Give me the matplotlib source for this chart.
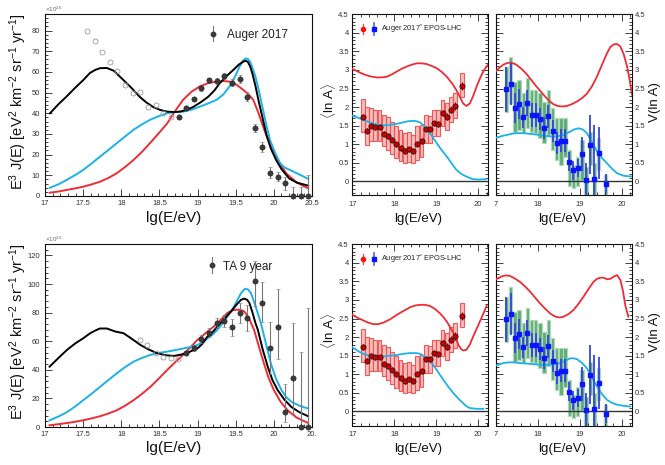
import matplotlib
matplotlib.use('Agg')
import matplotlib.pyplot as plt
from matplotlib.ticker import MultipleLocator, FixedLocator, FixedFormatter
from matplotlib.patches import Rectangle

plt.rcParams['font.family'] = ['Liberation Sans', 'DejaVu Sans']
plt.rcParams['mathtext.fontset'] = 'custom'
plt.rcParams['mathtext.rm'] = 'Liberation Sans'
plt.rcParams['mathtext.it'] = 'Liberation Sans:italic'
plt.rcParams['mathtext.bf'] = 'Liberation Sans:bold'

# ---------------- data: spectra ----------------
auger_lgE = [18.75, 18.85, 18.95, 19.05, 19.15, 19.25, 19.35, 19.45, 19.55, 19.65,
             19.75, 19.85, 19.95, 20.05, 20.15, 20.25, 20.35, 20.45]
auger_flux = [38.1, 42.5, 47.0, 52.0, 56.0, 55.6, 58.0, 54.8, 56.4, 48.0,
              33.0, 23.7, 11.2, 9.4, 6.1, 0.0, 0.0, 0.0]
auger_err_lo = [0.8, 0.9, 1.0, 1.1, 1.2, 1.3, 1.5, 1.8, 2.0, 2.2,
                2.0, 2.2, 2.7, 2.3, 3.2, 0.0, 0.0, 0.0]
auger_err_hi = [0.8, 0.9, 1.0, 1.1, 1.2, 1.3, 1.5, 1.8, 2.0, 2.2,
                2.0, 2.2, 2.7, 2.3, 3.2, 4.5, 4.5, 10.0]
auger_low_lgE = [17.55, 17.65, 17.75, 17.85, 17.95, 18.05, 18.15, 18.25, 18.35, 18.45, 18.55, 18.65]
auger_low_flux = [79.8, 74.8, 69.4, 65.0, 60.3, 53.5, 50.0, 50.5, 43.2, 43.9, 40.0, 38.0]

ta_lgE = [18.85, 18.95, 19.05, 19.15, 19.25, 19.35, 19.45, 19.55, 19.65, 19.75,
          19.85, 19.95, 20.05, 20.15, 20.25, 20.35, 20.45]
ta_flux = [51.6, 55.0, 61.6, 66.0, 73.0, 74.0, 69.6, 79.4, 76.0, 102.4,
           86.7, 55.0, 69.8, 10.5, 34.2, 0.0, 0.0]
ta_err_lo = [1.5, 1.8, 2.5, 3.0, 3.5, 4.0, 6.0, 7.0, 9.0, 18.0,
             13.6, 18.0, 22.0, 6.8, 24.8, 0.0, 0.0]
ta_err_hi = [1.5, 1.8, 2.5, 3.0, 3.5, 4.0, 6.0, 7.0, 9.0, 14.0,
             15.0, 18.6, 27.0, 19.5, 38.4, 52.5, 83.0]
ta_low_lgE = [18.24, 18.34, 18.45, 18.55, 18.65, 18.74]
ta_low_flux = [60.9, 57.4, 52.0, 49.2, 48.5, 47.3]

# model curves, Auger spectrum panel
tl_black_x = [17.065, 17.18, 17.28, 17.4, 17.5, 17.59, 17.66, 17.72, 17.81, 17.9, 18.03, 18.14,
              18.24, 18.33, 18.42, 18.51, 18.6, 18.69, 18.77, 18.85, 18.94, 19.04, 19.14, 19.22,
              19.29, 19.38, 19.47, 19.54, 19.6, 19.63, 19.66, 19.69, 19.72, 19.76, 19.8, 19.85,
              19.9, 19.96, 20.03, 20.1, 20.2, 20.3, 20.45]
tl_black_y = [40.0, 44.5, 48.0, 52.5, 56.0, 59.5, 61.0, 61.8, 61.9, 60.6, 56.0, 52.0,
              48.0, 45.2, 43.0, 41.6, 40.8, 40.6, 40.8, 41.6, 43.0, 45.3, 48.0, 51.0,
              54.5, 58.0, 61.0, 63.5, 65.0, 65.4, 64.8, 62.6, 59.0, 53.0, 46.0, 38.0,
              30.0, 23.0, 17.4, 13.0, 8.5, 6.5, 5.0]
tl_cyan_x = [17.065, 17.18, 17.28, 17.4, 17.5, 17.61, 17.72, 17.83, 17.94, 18.05, 18.16, 18.27,
             18.375, 18.49, 18.6, 18.7, 18.81, 18.92, 19.03, 19.14, 19.25, 19.34, 19.42, 19.49,
             19.55, 19.6, 19.63, 19.66, 19.69, 19.72, 19.76, 19.8, 19.85, 19.9, 19.95, 20.02,
             20.08, 20.14, 20.21, 20.3, 20.45]
tl_cyan_y = [4.0, 5.7, 7.7, 10.2, 12.6, 15.7, 19.0, 22.2, 25.5, 28.8, 32.0, 34.6,
             36.8, 38.6, 40.0, 40.6, 40.8, 41.7, 43.2, 44.8, 46.5, 49.2, 53.0, 57.6,
             62.6, 65.6, 66.5, 66.3, 64.8, 62.0, 57.5, 51.5, 43.0, 34.5, 27.0, 20.5,
             15.8, 13.8, 12.6, 11.0, 8.3]
tl_red_x = [17.065, 17.18, 17.28, 17.4, 17.5, 17.61, 17.72, 17.83, 17.94, 18.05, 18.16, 18.27,
            18.375, 18.49, 18.6, 18.7, 18.81, 18.92, 19.03, 19.14, 19.25, 19.34, 19.42, 19.51,
            19.6, 19.67, 19.73, 19.8, 19.86, 19.92, 19.99, 20.07, 20.16, 20.3, 20.45]
tl_red_y = [1.6, 2.2, 2.9, 3.7, 4.5, 5.6, 6.9, 8.7, 11.0, 14.0, 17.4, 21.3,
            25.5, 30.3, 35.0, 40.8, 46.5, 50.4, 53.0, 54.6, 55.3, 55.6, 55.3, 53.8,
            51.3, 49.0, 46.5, 40.0, 33.5, 27.5, 22.3, 16.5, 11.0, 6.5, 3.7]

# model curves, TA spectrum panel
bl_black_x = [17.06, 17.18, 17.29, 17.4, 17.5, 17.59, 17.66, 17.72, 17.81, 17.92, 18.03, 18.14,
              18.25, 18.36, 18.47, 18.58, 18.69, 18.78, 18.87, 19.0, 19.06, 19.13, 19.2, 19.26,
              19.35, 19.44, 19.51, 19.57, 19.61, 19.65, 19.68, 19.72, 19.76, 19.79, 19.85, 19.92,
              19.98, 20.05, 20.14, 20.23, 20.33, 20.45]
bl_black_y = [42.2, 48.5, 54.0, 58.6, 62.0, 65.5, 67.5, 68.9, 68.9, 66.8, 65.6, 61.6,
              57.4, 54.2, 51.6, 50.2, 49.7, 50.6, 52.0, 55.0, 58.0, 63.3, 66.5, 70.3,
              75.6, 80.9, 85.5, 89.0, 89.8, 89.0, 86.7, 80.0, 72.5, 68.0, 55.0, 42.2,
              33.0, 25.8, 19.0, 14.0, 10.5, 7.5]
bl_cyan_x = [17.06, 17.18, 17.29, 17.4, 17.5, 17.61, 17.72, 17.83, 17.94, 18.05, 18.16, 18.27,
             18.38, 18.49, 18.6, 18.71, 18.82, 18.91, 19.0, 19.07, 19.13, 19.2, 19.26, 19.35,
             19.44, 19.51, 19.57, 19.62, 19.66, 19.7, 19.76, 19.83, 19.9, 19.96, 20.03, 20.1,
             20.16, 20.23, 20.33, 20.45]
bl_cyan_y = [4.7, 7.4, 10.5, 14.5, 18.7, 23.2, 28.0, 32.8, 37.5, 41.9, 45.7, 48.3,
             50.4, 51.8, 52.7, 53.8, 55.0, 56.0, 57.4, 59.5, 62.0, 64.8, 68.0, 74.0,
             80.9, 87.5, 93.7, 96.6, 96.3, 93.7, 84.5, 72.6, 57.5, 44.5, 33.5, 25.8,
             21.0, 17.6, 15.0, 12.9]
bl_red_x = [17.06, 17.18, 17.29, 17.4, 17.5, 17.61, 17.72, 17.83, 17.94, 18.05, 18.16, 18.27,
            18.38, 18.49, 18.6, 18.71, 18.82, 18.91, 19.0, 19.07, 19.13, 19.2, 19.26, 19.33,
            19.39, 19.45, 19.5, 19.56, 19.61, 19.67, 19.74, 19.8, 19.87, 19.93, 20.0, 20.09,
            20.18, 20.3, 20.45]
bl_red_y = [1.2, 2.0, 2.8, 3.7, 4.7, 6.0, 7.5, 9.4, 11.7, 14.9, 18.7, 23.1,
            28.0, 33.8, 39.8, 45.5, 51.0, 56.0, 61.0, 64.0, 66.8, 69.7, 72.6, 76.5,
            79.7, 81.5, 82.0, 82.0, 80.9, 76.5, 68.0, 57.0, 44.5, 34.5, 25.8, 17.5,
            11.7, 6.5, 2.8]

# ---------------- data: composition ----------------
comp_lgE = [17.25, 17.35, 17.45, 17.55, 17.65, 17.75, 17.85, 17.95, 18.05, 18.15, 18.25, 18.35,
            18.45, 18.55, 18.65, 18.75, 18.85, 18.95, 19.05, 19.15, 19.25, 19.35, 19.45, 19.62]
lnA_val = [1.73, 1.37, 1.50, 1.46, 1.46, 1.28, 1.22, 1.12, 1.00, 0.90, 0.82, 0.86,
           0.82, 1.01, 1.09, 1.40, 1.41, 1.56, 1.55, 1.85, 1.74, 1.93, 2.03, 2.57]
lnA_stat = [0.09, 0.08, 0.07, 0.07, 0.07, 0.07, 0.07, 0.07, 0.07, 0.07, 0.07, 0.07,
            0.07, 0.07, 0.07, 0.07, 0.07, 0.07, 0.08, 0.08, 0.09, 0.09, 0.1, 0.12]
lnA_sys_top = [2.21, 2.00, 1.97, 1.93, 1.93, 1.79, 1.73, 1.61, 1.50, 1.39, 1.30, 1.34,
               1.26, 1.48, 1.52, 1.79, 1.77, 1.93, 1.93, 2.20, 2.10, 2.28, 2.37, 2.91]
lnA_sys_bot = [1.34, 0.97, 1.08, 1.08, 1.08, 0.94, 0.85, 0.73, 0.63, 0.54, 0.49, 0.51,
               0.49, 0.58, 0.67, 1.03, 1.03, 1.21, 1.21, 1.48, 1.39, 1.61, 1.70, 2.28]

V_val = [2.48, 2.63, 1.97, 2.09, 1.73, 2.12, 1.79, 1.79, 1.68, 1.44, 1.75, 1.36,
         1.03, 1.10, 1.10, 0.53, 0.30, 0.36, 0.74, 0.03, 0.99, 0.06, 0.76, -0.06]
V_stat = [0.60, 0.56, 0.40, 0.40, 0.28, 0.35, 0.33, 0.33, 0.30, 0.30, 0.30, 0.30,
          0.30, 0.30, 0.30, 0.25, 0.25, 0.25, 0.45, 0.46, 0.80, 1.45, 0.70, 0.25]
V_sys_top = [3.09, 3.34, 2.69, 2.73, 2.39, 2.78, 2.47, 2.47, 2.38, 2.15, 2.47, 1.97,
             1.70, 1.70, 1.70, 0.85, 0.45, 0.67, 1.12, 0.40, 1.34, 0.49, 1.17, 0.18]
V_sys_bot = [1.88, 2.11, 1.34, 1.39, 1.30, 1.44, 1.34, 1.30, 1.17, 1.03, 1.21, 0.85,
             0.58, 0.45, 0.67, -0.13, -0.18, -0.13, 0.05, -0.50, 0.45, -0.50, 0.31, -0.50]

# model curves <lnA>, top (Auger fit)
tm_red_x = [17.0, 17.13, 17.26, 17.42, 17.58, 17.7, 17.82, 17.94, 18.06, 18.17, 18.29, 18.41,
            18.53, 18.65, 18.77, 18.89, 19.01, 19.13, 19.25, 19.37, 19.48, 19.56, 19.64, 19.72,
            19.8, 19.88, 19.96, 20.04, 20.12, 20.24]
tm_red_y = [3.03, 2.96, 2.89, 2.83, 2.80, 2.80, 2.82, 2.88, 2.96, 3.03, 3.09, 3.14,
            3.18, 3.18, 3.16, 3.11, 3.05, 2.95, 2.82, 2.65, 2.46, 2.28, 2.10, 2.03,
            2.10, 2.30, 2.55, 2.77, 2.96, 3.16]
tm_cyan_x = [17.0, 17.13, 17.26, 17.42, 17.58, 17.74, 17.9, 18.06, 18.21, 18.33, 18.45, 18.53,
             18.61, 18.69, 18.77, 18.89, 19.01, 19.13, 19.25, 19.37, 19.48, 19.6, 19.72, 19.8,
             19.88, 20.0, 20.18]
tm_cyan_y = [1.77, 1.72, 1.66, 1.59, 1.53, 1.51, 1.52, 1.55, 1.59, 1.62, 1.63, 1.62,
             1.59, 1.52, 1.43, 1.24, 1.03, 0.84, 0.67, 0.48, 0.31, 0.2, 0.13, 0.09,
             0.06, 0.05, 0.06]
# V(lnA), top
tr_red_x = [17.0, 17.09, 17.17, 17.25, 17.33, 17.41, 17.49, 17.61, 17.73, 17.85, 17.97, 18.09,
            18.21, 18.29, 18.37, 18.45, 18.53, 18.61, 18.69, 18.81, 18.93, 19.05, 19.17, 19.29,
            19.41, 19.53, 19.65, 19.73, 19.81, 19.89, 19.97, 20.05, 20.13, 20.19, 20.25]
tr_red_y = [2.97, 3.07, 3.14, 3.18, 3.20, 3.18, 3.14, 3.03, 2.89, 2.72, 2.55, 2.39,
            2.24, 2.15, 2.08, 2.04, 2.02, 2.02, 2.03, 2.08, 2.15, 2.24, 2.36, 2.56,
            2.82, 3.14, 3.45, 3.62, 3.69, 3.70, 3.63, 3.42, 3.09, 2.75, 2.33]
tr_cyan_x = [17.0, 17.13, 17.25, 17.37, 17.49, 17.65, 17.81, 17.97, 18.13, 18.29, 18.45, 18.61,
             18.77, 18.87, 18.97, 19.07, 19.17, 19.29, 19.41, 19.53, 19.65, 19.77, 19.89, 20.05,
             20.25]
tr_cyan_y = [1.17, 1.22, 1.25, 1.28, 1.30, 1.30, 1.28, 1.26, 1.23, 1.21, 1.21, 1.25,
             1.34, 1.40, 1.43, 1.40, 1.30, 1.07, 0.81, 0.63, 0.49, 0.34, 0.22, 0.15,
             0.13]
# <lnA>, bottom (TA fit)
bm_red_x = [17.0, 17.13, 17.26, 17.38, 17.5, 17.62, 17.74, 17.9, 18.06, 18.21, 18.37, 18.49,
            18.61, 18.73, 18.85, 18.97, 19.09, 19.17, 19.25, 19.33, 19.41, 19.47, 19.53, 19.59,
            19.64, 19.72, 19.8, 19.88, 19.96, 20.04, 20.12, 20.2]
bm_red_y = [2.60, 2.52, 2.45, 2.39, 2.35, 2.35, 2.39, 2.48, 2.60, 2.70, 2.80, 2.85,
            2.87, 2.87, 2.84, 2.76, 2.64, 2.54, 2.42, 2.27, 2.10, 1.95, 1.79, 1.68,
            1.64, 1.66, 1.80, 2.02, 2.22, 2.42, 2.63, 2.84]
bm_cyan_x = [17.0, 17.13, 17.26, 17.42, 17.58, 17.74, 17.9, 18.06, 18.21, 18.37, 18.53, 18.61,
             18.69, 18.81, 18.93, 19.05, 19.17, 19.29, 19.41, 19.53, 19.64, 19.72, 19.8, 19.96,
             20.12]
bm_cyan_y = [1.73, 1.63, 1.55, 1.50, 1.48, 1.48, 1.50, 1.52, 1.55, 1.57, 1.57, 1.55,
             1.50, 1.39, 1.25, 1.05, 0.85, 0.66, 0.49, 0.34, 0.22, 0.14, 0.09, 0.07,
             0.07]
# V(lnA), bottom
br_red_x = [17.0, 17.09, 17.17, 17.25, 17.33, 17.45, 17.57, 17.69, 17.81, 17.93, 18.05, 18.17,
            18.29, 18.37, 18.45, 18.53, 18.61, 18.73, 18.85, 18.97, 19.09, 19.21, 19.33, 19.41,
            19.49, 19.57, 19.65, 19.73, 19.81, 19.89, 19.97, 20.03, 20.09, 20.16]
br_red_y = [3.56, 3.61, 3.65, 3.66, 3.65, 3.58, 3.49, 3.37, 3.23, 3.07, 2.91, 2.77,
            2.64, 2.58, 2.54, 2.53, 2.55, 2.62, 2.73, 2.90, 3.09, 3.30, 3.49, 3.57,
            3.60, 3.60, 3.56, 3.57, 3.63, 3.67, 3.54, 3.25, 2.84, 2.55]
br_cyan_x = [17.0, 17.09, 17.17, 17.29, 17.41, 17.61, 17.81, 18.01, 18.21, 18.37, 18.53, 18.65,
             18.77, 18.85, 18.93, 19.05, 19.17, 19.29, 19.41, 19.53, 19.65, 19.77, 19.89, 20.05,
             20.2]
br_cyan_y = [1.24, 1.27, 1.30, 1.32, 1.32, 1.30, 1.28, 1.26, 1.25, 1.27, 1.30, 1.36,
             1.43, 1.43, 1.41, 1.31, 1.16, 0.92, 0.67, 0.47, 0.31, 0.23, 0.18, 0.15,
             0.13]

spec_xticks = [17, 17.5, 18, 18.5, 19, 19.5, 20, 20.5]
spec_xlabels_top = ['17', '17.5', '18', '18.5', '19', '19.5', '20', '20.5']
spec_xlabels_bot = ['17', '17.5', '18', '18.5', '19', '19.5', '20', '20.']
comp_xticks = [17, 18, 19, 20]
comp_xlabels = ['17', '18', '19', '20']
comp_xlabels_r = ['7', '18', '19', '20']
comp_yticks = [0, 0.5, 1, 1.5, 2, 2.5, 3, 3.5, 4, 4.5]
comp_ylabels = ['0', '0.5', '1', '1.5', '2', '2.5', '3', '3.5', '4', '4.5']

# ---------------- layout ----------------
W, H = 665, 465
fig = plt.figure(figsize=(W / 100, H / 100), dpi=100)


def rect(l, t, r, b):
    return [l / W, 1 - b / H, (r - l) / W, (b - t) / H]


RED = '#ee2c36'
CYAN = '#1cb2e8'
BLACK = '#000000'
TICKC = '#222222'


def style_common(ax):
    for s in ax.spines.values():
        s.set_linewidth(0.8)
        s.set_color('#111111')
    ax.tick_params(which='both', direction='in', width=0.6, colors=TICKC,
                   labelsize=5.5, labelcolor='#333333')
    ax.tick_params(which='major', length=5)
    ax.tick_params(which='minor', length=2.5)


def spectrum_panel(ax, ymax, ymaj, ymin, xlabels):
    style_common(ax)
    ax.set_xlim(17, 20.5)
    ax.set_ylim(0, ymax)
    ax.xaxis.set_major_locator(FixedLocator(spec_xticks))
    ax.xaxis.set_major_formatter(FixedFormatter(xlabels))
    ax.xaxis.set_minor_locator(MultipleLocator(0.1))
    ax.yaxis.set_major_locator(MultipleLocator(ymaj))
    ax.yaxis.set_minor_locator(MultipleLocator(ymin))
    ax.tick_params(axis='y', pad=3.5)
    ax.tick_params(axis='x', pad=3)


def comp_panel(ax, right=False):
    style_common(ax)
    ax.set_xlim(17, 20.24)
    ax.set_ylim(-0.38, 4.5)
    ax.xaxis.set_major_locator(FixedLocator(comp_xticks))
    ax.xaxis.set_major_formatter(FixedFormatter(comp_xlabels_r if right else comp_xlabels))
    ax.xaxis.set_minor_locator(MultipleLocator(0.2))
    ax.yaxis.set_major_locator(FixedLocator(comp_yticks))
    ax.yaxis.set_major_formatter(FixedFormatter(comp_ylabels))
    ax.yaxis.set_minor_locator(MultipleLocator(0.1))
    ax.tick_params(which='both', top=True, right=True, bottom=True, left=True)
    ax.tick_params(axis='y', pad=2.5)
    ax.tick_params(axis='x', pad=4)
    if right:
        ax.tick_params(axis='y', labelleft=False, labelright=True, pad=2)
    ax.axhline(0, color='#333333', lw=1.0, zorder=2)


def draw_spectrum(ax, x, y, elo, ehi, xl, yl, curves):
    for cx, cy, col in curves:
        ax.plot(cx, cy, color=col, lw=1.4, zorder=3, solid_joinstyle='round')
    ax.plot(xl, yl, 'o', ms=3.6, mfc='none', mec='#9a9a9a', mew=0.6, zorder=4)
    ax.errorbar(x, y, yerr=[elo, ehi], fmt='o', ms=3.8, color='#444444',
                mfc='#3a3a3a', mec='#222222', mew=0.4, ecolor='#777777',
                elinewidth=0.8, capsize=1.2, capthick=0.6, zorder=5, clip_on=False)


def draw_lnA(ax, curves):
    for xi, t, b in zip(comp_lgE, lnA_sys_top, lnA_sys_bot):
        ax.add_patch(Rectangle((xi - 0.045, b), 0.09, t - b, facecolor='#f9b5b5',
                               edgecolor='#f04a4a', lw=0.8, alpha=0.9, zorder=1))
    for cx, cy, col in curves:
        ax.plot(cx, cy, color=col, lw=1.3, zorder=3, solid_joinstyle='round')
    ax.errorbar(comp_lgE, lnA_val, yerr=lnA_stat, fmt='o', ms=3.8, mfc='#cc0000',
                mec='#111111', mew=0.5, ecolor='#880000', elinewidth=0.8, zorder=5)


def draw_V(ax, curves):
    for xi, t, b in zip(comp_lgE, V_sys_top, V_sys_bot):
        ax.add_patch(Rectangle((xi - 0.04, b), 0.08, t - b, facecolor='#4ba266',
                               edgecolor='#b3d9bc', lw=0.9, alpha=0.9, zorder=1))
    for cx, cy, col in curves:
        ax.plot(cx, cy, color=col, lw=1.3, zorder=3, solid_joinstyle='round')
    ax.errorbar(comp_lgE, V_val, yerr=V_stat, fmt='s', ms=3.4, mfc='#0a14ff',
                mec='#0a14ff', ecolor='#3346d8', elinewidth=1.3, zorder=5)


def comp_legend(ax):
    tr = ax.transAxes
    ax.plot([0.081, 0.081], [0.892, 0.946], color='#ff4040', lw=0.9, transform=tr, zorder=6)
    ax.plot([0.081], [0.919], 'o', ms=3.0, color='#ff1010', transform=tr, zorder=7)
    ax.plot([0.162, 0.162], [0.884, 0.954], color='#4466ee', lw=1.2, transform=tr, zorder=6)
    ax.plot([0.162], [0.919], 's', ms=3.0, color='#0a14ff', transform=tr, zorder=7)
    ax.text(0.214, 0.917, r'Auger 2017$^{*}$ EPOS-LHC', transform=tr, fontsize=5.3,
            va='center', ha='left', color='#222222')


# --- top-left: Auger spectrum
ax_tl = fig.add_axes(rect(45, 14, 312, 196))
spectrum_panel(ax_tl, 88, 10, 2, spec_xlabels_top)
draw_spectrum(ax_tl, auger_lgE, auger_flux, auger_err_lo, auger_err_hi,
              auger_low_lgE, auger_low_flux,
              [(tl_red_x, tl_red_y, RED), (tl_cyan_x, tl_cyan_y, CYAN),
               (tl_black_x, tl_black_y, BLACK)])
ax_tl.plot([0.628, 0.628], [0.849, 0.934], color='#777777', lw=0.8, transform=ax_tl.transAxes)
ax_tl.plot([0.628], [0.892], 'o', ms=3.2, color='#3a3a3a', transform=ax_tl.transAxes)
ax_tl.text(0.68, 0.885, 'Auger 2017', transform=ax_tl.transAxes, fontsize=8.5,
           va='center', ha='left', color='#222222')

# --- bottom-left: TA spectrum
ax_bl = fig.add_axes(rect(45, 244, 312, 427))
spectrum_panel(ax_bl, 128, 20, 4, spec_xlabels_bot)
draw_spectrum(ax_bl, ta_lgE, ta_flux, ta_err_lo, ta_err_hi,
              ta_low_lgE, ta_low_flux,
              [(bl_red_x, bl_red_y, RED), (bl_cyan_x, bl_cyan_y, CYAN),
               (bl_black_x, bl_black_y, BLACK)])
ax_bl.plot([0.624, 0.624], [0.84, 0.927], color='#777777', lw=0.8, transform=ax_bl.transAxes)
ax_bl.plot([0.624], [0.887], 'o', ms=3.2, color='#3a3a3a', transform=ax_bl.transAxes)
ax_bl.text(0.667, 0.874, 'TA 9 year', transform=ax_bl.transAxes, fontsize=8.5,
           va='center', ha='left', color='#222222')

# --- composition panels
ax_tm = fig.add_axes(rect(352.3, 14.3, 488.3, 195.5))
comp_panel(ax_tm)
draw_lnA(ax_tm, [(tm_red_x, tm_red_y, RED), (tm_cyan_x, tm_cyan_y, CYAN)])
comp_legend(ax_tm)

ax_tr = fig.add_axes(rect(496.0, 14.3, 631.7, 195.5))
comp_panel(ax_tr, right=True)
draw_V(ax_tr, [(tr_red_x, tr_red_y, RED), (tr_cyan_x, tr_cyan_y, CYAN)])

ax_bm = fig.add_axes(rect(352.3, 244.3, 488.3, 425.5))
comp_panel(ax_bm)
draw_lnA(ax_bm, [(bm_red_x, bm_red_y, RED), (bm_cyan_x, bm_cyan_y, CYAN)])
comp_legend(ax_bm)

ax_br = fig.add_axes(rect(496.0, 244.3, 631.7, 425.5))
comp_panel(ax_br, right=True)
draw_V(ax_br, [(br_red_x, br_red_y, RED), (br_cyan_x, br_cyan_y, CYAN)])

# --- labels
ylab = r'E$^{3}$ J(E) [eV$^{2}$ km$^{-2}$ sr$^{-1}$ yr$^{-1}$]'
for top in (0, 230):
    fig.text(18 / W, 1 - (top + 102) / H, ylab, rotation=90, fontsize=10.5,
             ha='center', va='center', color='#111111')
    fig.text(45 / W, 1 - (top + 9) / H, r'$\times10^{36}$', fontsize=4.5,
             ha='left', va='center', color='#666666')
    fig.text(174 / W, 1 - (top + 218) / H, 'lg(E/eV)', fontsize=11,
             ha='center', va='center', color='#111111')
    fig.text(418 / W, 1 - (top + 219) / H, 'lg(E/eV)', fontsize=9.5,
             ha='center', va='center', color='#111111')
    fig.text(562 / W, 1 - (top + 219) / H, 'lg(E/eV)', fontsize=9.5,
             ha='center', va='center', color='#111111')
    fig.text(329 / W, 1 - (top + 101) / H, r'$\langle$ln A$\rangle$', rotation=90,
             fontsize=9.5, ha='center', va='center', color='#111111')
    fig.text(655 / W, 1 - (top + 102) / H, 'V(ln A)', rotation=90, fontsize=9.5,
             ha='center', va='center', color='#111111')

fig.savefig('out.png', dpi=100)
